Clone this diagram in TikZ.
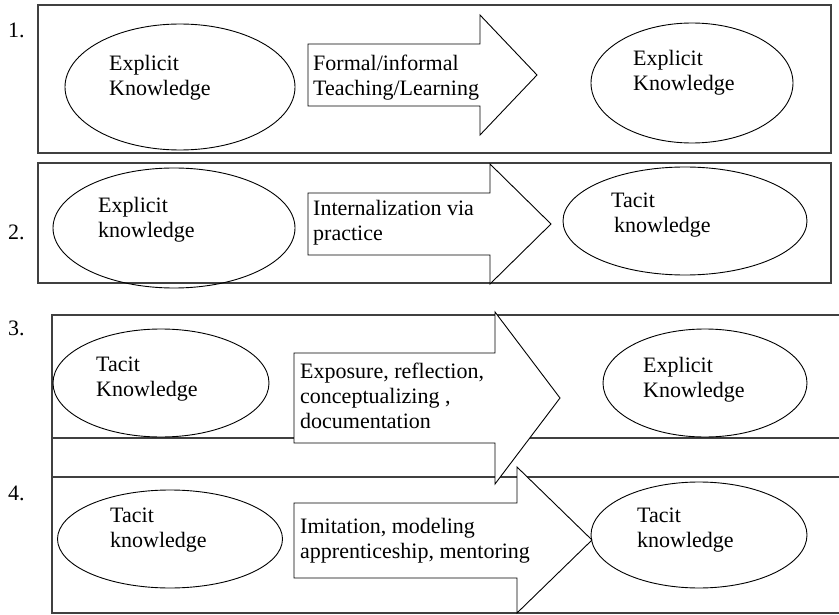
\documentclass[tikz,border=0pt]{standalone}
\usepackage{fontspec}
\setmainfont{Liberation Serif}
\usetikzlibrary{shapes.geometric}

\tikzset{
  panel/.style={draw=black!75, line width=1.4pt},
  blob/.style={ellipse, draw, line width=0.9pt, inner sep=0pt},
  bigarrow/.style={draw, fill=white, line width=0.9pt, line join=miter},
  txt/.style={anchor=north west, align=left, inner sep=0pt, font=\fontsize{22}{25}\selectfont},
  numlabel/.style={anchor=base west, inner sep=0pt, font=\fontsize{22}{25}\selectfont}
}

\begin{document}
\begin{tikzpicture}[x=1pt, y=-1pt]
  \useasboundingbox (0,0) rectangle (839,615);

  % Frames
  \draw[panel] (38,5) rectangle (831,153);
  \draw[panel] (38,163) rectangle (831,283);
  \draw[panel] (839,315) -- (52,315) -- (52,613) -- (839,613);
  \draw[panel] (52,438) -- (839,438);
  \draw[panel] (52,477) -- (839,477);

  % Numbers
  \node[numlabel] (n1) at (8,38) {1.};
  \node[numlabel] (n2) at (8,240) {2.};
  \node[numlabel] (n3) at (8,335) {3.};
  \node[numlabel] (n4) at (8,500) {4.};

  % Row 1
  \node[blob, minimum width=230pt, minimum height=126pt] (e1a) at (180,87) {};
  \node[blob, minimum width=202pt, minimum height=120pt] (e1b) at (692,83) {};
  \draw[bigarrow] (308,44) -- (480,44) -- (480,15) -- (537,75) -- (480,135) -- (480,106) -- (308,106) -- cycle;
  \node[txt] (t1a) at (109,55) {Explicit\\Knowledge};
  \node[txt] (t1b) at (633,50) {Explicit\\Knowledge};
  \node[txt] (a1) at (313,55) {Formal/informal\\Teaching/Learning};

  % Row 2
  \node[blob, minimum width=242pt, minimum height=120pt] (e2a) at (174,228) {};
  \node[blob, minimum width=244pt, minimum height=108pt] (e2b) at (685,221) {};
  \draw[bigarrow] (308,193) -- (490,193) -- (490,164) -- (551,224) -- (490,284) -- (490,255) -- (308,255) -- cycle;
  \node[txt] (t2a) at (98,197) {Explicit\\knowledge};
  \node[txt] (t2b) at (611,193) {Tacit\\\hspace{3pt}knowledge};
  \node[txt] (a2) at (313,200) {Internalization via\\practice};

  % Row 3
  \node[blob, minimum width=216pt, minimum height=108pt] (e3a) at (161,383) {};
  \node[blob, minimum width=204pt, minimum height=108pt] (e3b) at (705,383) {};
  \draw[bigarrow] (294,353) -- (495,353) -- (495,312) -- (560,398) -- (495,484) -- (495,443) -- (294,443) -- cycle;
  \node[txt] (t3a) at (96,357) {Tacit\\Knowledge};
  \node[txt] (t3b) at (643,357) {Explicit\\Knowledge};
  \node[txt] (a3) at (300,363) {Exposure, reflection,\\conceptualizing ,\\documentation};

  % Row 4
  \node[blob, minimum width=225pt, minimum height=98pt] (e4a) at (170,539) {};
  \node[blob, minimum width=216pt, minimum height=106pt] (e4b) at (699,535) {};
  \draw[bigarrow] (294,503) -- (517,503) -- (517,467) -- (592,540) -- (517,613) -- (517,578) -- (294,578) -- cycle;
  \node[txt] (t4a) at (110,508) {Tacit\\knowledge};
  \node[txt] (t4b) at (637,508) {Tacit\\knowledge};
  \node[txt] (a4) at (300,518) {Imitation, modeling\\apprenticeship, mentoring};
\end{tikzpicture}
\end{document}
